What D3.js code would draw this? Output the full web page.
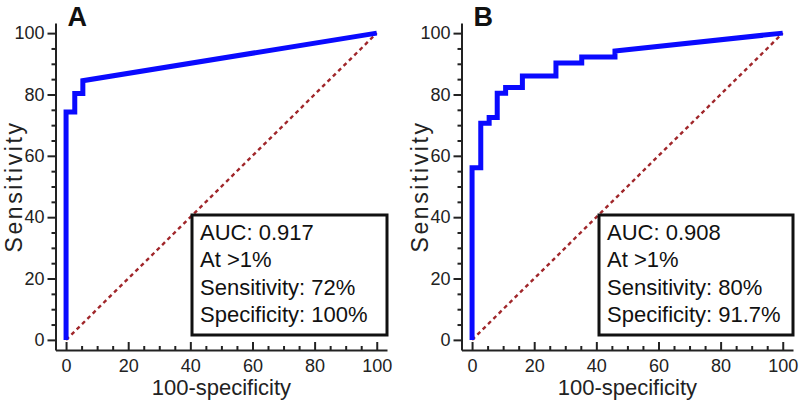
<!DOCTYPE html>
<html>
<head>
<meta charset="utf-8">
<script src="https://cdn.jsdelivr.net/npm/d3@7"></script>
<style>
html,body{margin:0;padding:0;background:#fff;}
svg{display:block;font-family:"Liberation Sans",Arial,sans-serif;}
</style>
</head>
<body>
<svg id="chart" width="800" height="405"></svg>
<script>
// ---- data ----
const panelLabels = ["A", "B"];
const rocA_x = [0, 0, 2.8, 2.8, 5.4, 5.4, 100];
const rocA_y = [0, 74.3, 74.3, 80.3, 80.3, 84.5, 100];
const rocB_x = [0, 0, 2.8, 2.8, 5.5, 5.5, 8.1, 8.1, 10.8, 10.8, 16.2, 16.2, 27, 27, 35.3, 35.3, 46, 46, 100];
const rocB_y = [0, 56.1, 56.1, 70.6, 70.6, 72.5, 72.5, 80.4, 80.4, 82.3, 82.3, 86, 86, 90.3, 90.3, 92.2, 92.2, 94.2, 100];
const diagonal = [0, 100];
const majorTicks = [0, 20, 40, 60, 80, 100];
const minorTicks = [5, 10, 15, 25, 30, 35, 45, 50, 55, 65, 70, 75, 85, 90, 95];
const infoA = ["AUC: 0.917", "At >1%", "Sensitivity: 72%", "Specificity: 100%"];
const infoB = ["AUC: 0.908", "At >1%", "Sensitivity: 80%", "Specificity: 91.7%"];
const xTitle = "100-specificity";
const yTitle = "Sensitivity";

const svg = d3.select("#chart");
const axisColor = "#222";

const panels = [
  {label: panelLabels[0], xs: rocA_x, ys: rocA_y, info: infoA, x0: 55.5, x1: 387, boxL: 192, yLabX: 14},
  {label: panelLabels[1], xs: rocB_x, ys: rocB_y, info: infoB, x0: 461.5, x1: 793, boxL: 599, yLabX: 420}
];

panels.forEach(p => {
  const x = d3.scaleLinear().domain([-3.4, 103.3]).range([p.x0, p.x1]);
  const y = d3.scaleLinear().domain([-3.3, 103.3]).range([350, 23]);
  const g = svg.append("g");

  // diagonal
  g.append("line")
    .attr("x1", x(diagonal[0])).attr("y1", y(diagonal[0]))
    .attr("x2", x(diagonal[1])).attr("y2", y(diagonal[1]))
    .attr("stroke", "#a0262a").attr("stroke-width", 2.4)
    .attr("stroke-dasharray", "4,3.5");

  // ROC curve
  const pts = p.xs.map((v, i) => [v, p.ys[i]]);
  g.append("path")
    .attr("d", d3.line().x(d => x(d[0])).y(d => y(d[1]))(pts))
    .attr("fill", "none").attr("stroke", "#0a0aff")
    .attr("stroke-width", 5).attr("stroke-linejoin", "miter");

  // y axis
  g.append("g").attr("transform", `translate(${x(-3.4)},0)`)
    .call(d3.axisLeft(y).tickValues(majorTicks).tickSizeInner(8).tickSizeOuter(0).tickPadding(3));
  g.append("g").attr("transform", `translate(${x(-3.4)},0)`)
    .call(d3.axisLeft(y).tickValues(minorTicks).tickSizeInner(4).tickSizeOuter(0).tickFormat(""))
    .call(a => a.select(".domain").remove());
  // x axis
  g.append("g").attr("transform", `translate(0,${y(-3.3)})`)
    .call(d3.axisBottom(x).tickValues(majorTicks).tickSizeInner(-8).tickSizeOuter(0).tickPadding(9));
  g.append("g").attr("transform", `translate(0,${y(-3.3)})`)
    .call(d3.axisBottom(x).tickValues(minorTicks).tickSizeInner(-4).tickSizeOuter(0).tickFormat(""))
    .call(a => a.select(".domain").remove());

  g.selectAll(".domain").attr("stroke", axisColor).attr("stroke-width", 2);
  g.selectAll(".tick line").attr("stroke", axisColor).attr("stroke-width", 2);
  g.selectAll(".tick text").attr("fill", axisColor)
    .style("font-size", "18px").style("font-family", '"Liberation Sans",Arial,sans-serif');

  // axis titles
  g.append("text").attr("x", x(50)).attr("y", 395)
    .attr("text-anchor", "middle").attr("fill", axisColor)
    .style("font-size", "22px").text(xTitle);
  g.append("text").attr("transform", `translate(${p.yLabX + 8},${y(50)}) rotate(-90)`)
    .attr("text-anchor", "middle").attr("fill", axisColor)
    .style("font-size", "23px").style("letter-spacing", "2.6px").text(yTitle);

  // panel label
  g.append("text").attr("x", x(0.5)).attr("y", 26)
    .attr("fill", "#111").style("font-size", "27px").style("font-weight", "bold")
    .text(p.label);

  // info box
  g.append("rect").attr("x", p.boxL).attr("y", 215)
    .attr("width", p.x1 - p.boxL).attr("height", 120)
    .attr("fill", "#fff").attr("stroke", "#111").attr("stroke-width", 3);
  g.selectAll("text.info").data(p.info).enter().append("text")
    .attr("class", "info")
    .attr("x", p.boxL + 8).attr("y", (d, i) => 240 + i * 27.3)
    .attr("fill", "#111").style("font-size", "22px").text(d => d);
});
</script>
</body>
</html>
